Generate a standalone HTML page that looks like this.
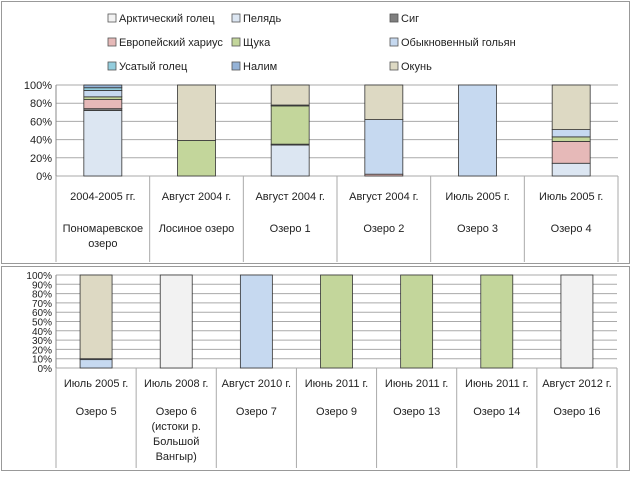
<!DOCTYPE html>
<html><head><meta charset="utf-8"><style>
body{margin:0;background:#fff;font-family:"Liberation Sans",sans-serif}
svg text{font-family:"Liberation Sans",sans-serif;fill:#222}
</style></head><body>
<svg id="c" width="632" height="475" xmlns="http://www.w3.org/2000/svg"></svg>
<script>
const species=["Арктический голец","Пелядь","Сиг","Европейский хариус","Щука","Обыкновенный гольян","Усатый голец","Налим","Окунь"];
const colors=["#f2f2f2","#dce6f2","#7f7f7f","#e6b9b8","#c3d69b","#c6d9f0","#93cddd","#95b3d7","#ddd9c3"];
const topDates=["2004-2005 гг.","Август 2004 г.","Август 2004 г.","Август 2004 г.","Июль 2005 г.","Июль 2005 г."];
const topNames=[["Пономаревское","озеро"],["Лосиное озеро"],["Озеро 1"],["Озеро 2"],["Озеро 3"],["Озеро 4"]];
const topValues=[[0,72,2,10,3,7,3,3,0],[0,0,0,0,39,0,0,0,61],[0,34,1,0,42,1,0,0,22],[0,0,0,2,0,60,0,0,38],[0,0,0,0,0,100,0,0,0],[0,14,0,24,5,8,0,0,49]];
const botDates=["Июль 2005 г.","Июль 2008 г.","Август 2010 г.","Июнь 2011 г.","Июнь 2011 г.","Июнь 2011 г.","Август 2012 г."];
const botNames=[["Озеро 5"],["Озеро 6","(истоки р.","Большой","Вангыр)"],["Озеро 7"],["Озеро 9"],["Озеро 13"],["Озеро 14"],["Озеро 16"]];
const botValues=[[0,0,0,0,0,9,0,1,90],[100,0,0,0,0,0,0,0,0],[0,0,0,0,0,100,0,0,0],[0,0,0,0,100,0,0,0,0],[0,0,0,0,100,0,0,0,0],[0,0,0,0,100,0,0,0,0],[100,0,0,0,0,0,0,0,0]];
const topTicks=[0,20,40,60,80,100];
const botTicks=[0,10,20,30,40,50,60,70,80,90,100];

const S="http://www.w3.org/2000/svg",svg=document.getElementById('c');
function el(t,a,p){const e=document.createElementNS(S,t);for(const k in a)e.setAttribute(k,a[k]);(p||svg).appendChild(e);return e;}
function txt(x,y,s,anchor,size,p){const t=el('text',{x:x,y:y,'text-anchor':anchor,'font-size':size},p);t.textContent=s;return t;}

let p1=el('rect',{x:1.5,y:1.5,width:628,height:262,fill:'#fff',stroke:'#999'});


let p2=el('rect',{x:1.5,y:266.5,width:628,height:204,fill:'#fff',stroke:'#999'});



const lx=[108,232,390],ly=[18,42,66];
species.forEach((s,i)=>{
  const g=el('g',{});
  
  
  const x=lx[i%3],y=ly[Math.floor(i/3)];
  el('rect',{x:x,y:y-4,width:8,height:8,fill:colors[i],stroke:'#555','stroke-width':0.8},g);
  txt(x+11,y+4,s,'start',11,g);
});

function chart(cfg){
  const {x0,x1,yTop,yBot,ticks,dates,names,values,tableBot,bw,dateY,nameY,tickSize,name}=cfg;
  const g=el('g',{});
  
  
  const ys=v=>yBot-(yBot-yTop)*v/100;
  const n=dates.length,cw=(x1-x0)/n,xs=i=>x0+cw*i;
  ticks.forEach(t=>{
    el('line',{x1:x0,x2:x1,y1:ys(t),y2:ys(t),stroke:'#aaa','stroke-width':1},g);
    const lb=txt(x0-4,ys(t)+4,t+'%','end',tickSize,g);
    
    
  });
  el('line',{x1:x0,x2:x0,y1:yTop,y2:yBot,stroke:'#888'},g);
  for(let i=0;i<=n;i++)el('line',{x1:xs(i),x2:xs(i),y1:yBot,y2:tableBot,stroke:'#aaa'},g);
  values.forEach((vals,i)=>{
    let acc=0;const cx=xs(i)+cw/2;
    vals.forEach((v,j)=>{
      if(v<=0)return;
      const r=el('rect',{x:cx-bw/2,y:ys(acc+v),width:bw,height:ys(acc)-ys(acc+v),fill:colors[j],stroke:'#333','stroke-width':0.8},g);
      
      
      acc+=v;
    });
    const d=txt(cx,dateY,dates[i],'middle',11,g);
    
    
    names[i].forEach((s,k)=>{
      const t=txt(cx,nameY+k*15,s,'middle',11,g);
      
      
    });
  });
}
chart({name:'top-chart',x0:56,x1:618,yTop:85,yBot:176,ticks:topTicks,dates:topDates,names:topNames,values:topValues,tableBot:262,bw:38,dateY:200,nameY:232,tickSize:11});
chart({name:'bottom-chart',x0:56,x1:617,yTop:275,yBot:368,ticks:botTicks,dates:botDates,names:botNames,values:botValues,tableBot:468,bw:32,dateY:387,nameY:415,tickSize:10});
</script>
</body></html>
